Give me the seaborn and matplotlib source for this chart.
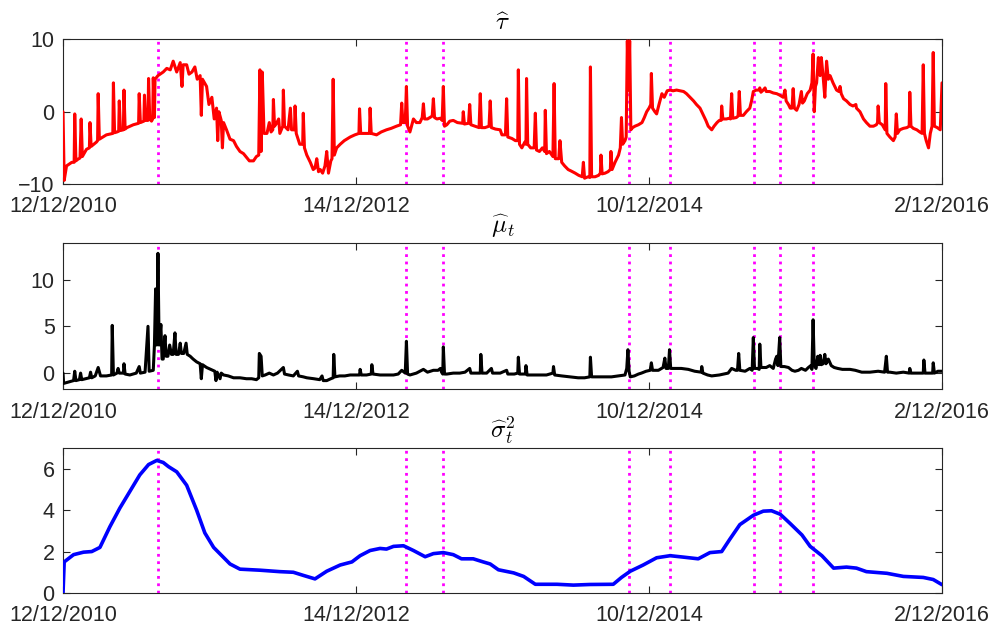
import matplotlib; matplotlib.use('Agg')
import numpy as np
import seaborn as sns
import matplotlib.pyplot as plt

# x axis is the observation index (0..1500), labelled with dates
date_ticks = [0, 500, 1000, 1500]
date_labels = ['12/12/2010', '14/12/2012', '10/12/2014', '2/12/2016']

# detected change points (magenta dotted lines)
events = [162, 585, 648, 966, 1035, 1179, 1224, 1280]

# tau-hat (red)
tau_x = [0, 2, 6, 15, 19, 20, 22, 25, 29, 31, 33, 40, 45, 46, 48, 57, 59, 60, 62, 74,
         85, 86, 88, 92, 95, 96, 98, 103, 104, 106, 109, 120, 129, 130, 132, 138, 139, 141, 145, 146,
         148, 151, 153, 154, 156, 157, 162, 171, 177, 183, 188, 194, 200, 203, 205, 211, 215, 220, 225, 229,
         234, 236, 238, 245, 249, 254, 258, 262, 264, 266, 270, 272, 274, 279, 285, 291, 296, 302, 308, 313,
         318, 325, 330, 334, 336, 338, 340, 343, 348, 352, 355, 358, 359, 361, 365, 368, 370, 375, 376, 378,
         384, 388, 390, 395, 396, 398, 404, 409, 410, 412, 416, 422, 427, 430, 433, 436, 439, 443, 447, 450,
         453, 457, 459, 461, 463, 467, 473, 480, 490, 498, 505, 506, 508, 515, 523, 524, 526, 535, 543, 552,
         560, 569, 576, 578, 580, 584, 586, 588, 592, 598, 603, 609, 613, 615, 617, 622, 626, 630, 632, 634,
         638, 644, 647, 649, 651, 655, 660, 666, 673, 682, 683, 685, 692, 694, 696, 703, 710, 712, 714, 720,
         727, 729, 731, 738, 746, 749, 755, 757, 759, 766, 772, 776, 777, 779, 783, 788, 790, 791, 793, 798,
         804, 806, 808, 813, 818, 822, 823, 825, 830, 836, 838, 840, 846, 848, 851, 856, 862, 867, 874, 880,
         886, 888, 890, 896, 899, 900, 902, 908, 914, 917, 918, 920, 925, 930, 934, 935, 937, 942, 948, 951,
         953, 955, 959, 961, 963, 965, 967, 969, 972, 976, 982, 988, 992, 996, 1000, 1003, 1004, 1006, 1010, 1013,
         1017, 1022, 1026, 1031, 1036, 1041, 1047, 1053, 1059, 1064, 1070, 1076, 1081, 1087, 1093, 1097, 1101, 1107, 1111, 1116,
         1120, 1123, 1124, 1126, 1132, 1137, 1139, 1141, 1143, 1149, 1152, 1154, 1156, 1161, 1166, 1172, 1175, 1178, 1183, 1188,
         1189, 1191, 1195, 1198, 1200, 1206, 1212, 1218, 1223, 1229, 1232, 1234, 1238, 1241, 1244, 1246, 1248, 1252, 1256, 1260,
         1262, 1265, 1270, 1275, 1278, 1280, 1282, 1284, 1286, 1289, 1291, 1292, 1294, 1297, 1300, 1303, 1306, 1309, 1314, 1320,
         1324, 1326, 1328, 1332, 1337, 1343, 1348, 1353, 1354, 1360, 1366, 1371, 1377, 1383, 1388, 1390, 1391, 1393, 1398, 1403,
         1404, 1406, 1411, 1417, 1420, 1422, 1424, 1428, 1434, 1440, 1444, 1445, 1447, 1451, 1457, 1462, 1466, 1468, 1470, 1473,
         1477, 1480, 1483, 1485, 1487, 1492, 1497, 1500]
tau_y = [0.0, -9.5, -7.5, -7.0, -7.0, -0.3, -6.8, -6.6, -6.4, -1.0, -6.2, -5.2, -5.0, -1.5, -4.8, -4.2, -4.0, 2.5, -3.8, -3.2,
         -3.0, 4.0, -2.9, -2.8, -2.7, 1.5, -2.6, -2.5, 3.0, -2.4, -2.2, -1.8, -1.6, 2.5, -1.5, -1.3, 2.3, -1.2, -1.2, 4.6,
         -1.0, -1.3, -1.0, 4.7, -0.8, 4.5, 5.0, 5.5, 6.0, 5.8, 7.0, 5.5, 6.8, 3.5, 6.5, 6.5, 5.2, 5.5, 6.2, 4.5,
         5.0, -0.5, 4.5, 3.5, 1.0, 2.0, -1.0, 0.5, -4.0, 0.0, -1.2, -5.0, -1.5, -2.5, -3.8, -4.0, -4.8, -5.5, -5.8, -6.3,
         -6.8, -6.8, -6.2, -6.0, 5.8, -5.5, 5.5, -3.0, -3.0, -1.5, -2.8, -2.5, 1.7, -2.0, -1.5, -1.0, -3.0, -2.0, 3.0, -2.0,
         -2.5, 0.5, -2.5, -2.5, 0.8, -3.0, -4.5, -4.5, -0.2, -5.0, -6.0, -7.0, -8.0, -7.8, -6.5, -8.3, -8.0, -8.5, -7.5, -5.5,
         -8.5, -6.8, -6.5, 4.5, -6.0, -5.0, -4.5, -4.0, -3.5, -3.2, -3.0, 0.4, -3.0, -3.0, -3.0, 0.5, -3.0, -3.2, -2.8, -2.5,
         -2.3, -2.0, -1.8, 1.2, -1.5, -1.5, 3.5, -2.0, -2.8, -1.0, -1.5, -1.5, -0.8, 1.1, -1.0, -1.0, -0.8, -0.6, 1.8, -0.8,
         -1.0, -0.9, -1.2, 3.5, -2.0, -1.8, -1.3, -1.2, -1.5, -1.6, 0.0, -1.7, -1.6, 1.0, -1.8, -2.0, -2.2, 2.5, -2.2, -2.2,
         -2.0, 1.5, -2.2, -2.4, -2.5, -3.2, -3.2, 1.8, -3.5, -3.7, -4.0, -4.0, 5.8, -4.5, -5.0, -4.2, -4.5, 4.6, -4.5, -5.0,
         -5.0, -0.2, -5.3, -5.5, -5.0, -5.5, 0.2, -5.8, -5.5, -6.2, 3.9, -6.5, -6.5, -4.0, -7.0, -7.5, -8.0, -8.2, -8.5, -8.8,
         -9.0, -7.0, -9.2, -9.0, -9.1, 6.2, -9.0, -9.0, -8.8, -8.5, -6.0, -8.6, -8.5, -8.3, -8.0, -5.5, -8.0, -7.0, -6.0, -5.0,
         -0.8, -4.5, -4.0, -3.5, 9.8, 3.0, 9.8, -2.5, -2.2, -2.0, -1.8, -1.5, -0.8, 0.0, 0.5, 1.0, 5.3, 0.5, 0.0, -0.3,
         1.0, 2.5, 2.0, 2.9, 3.0, 2.9, 3.0, 2.9, 2.8, 2.5, 2.0, 1.5, 1.0, 0.5, -0.5, -1.2, -2.0, -2.5, -2.0, -1.5,
         -1.2, -1.2, 0.8, -1.0, -1.0, -0.9, -1.0, 2.5, -0.9, -0.8, -0.6, 2.8, -0.5, -0.5, 0.0, 0.5, 1.5, 2.8, 3.0, 3.0,
         3.3, 2.7, 3.0, 3.3, 2.8, 2.8, 2.6, 2.5, 2.3, 2.0, 3.0, 1.5, 1.0, 0.5, 0.5, 3.2, 0.5, 0.2, 1.0, 2.8,
         1.2, 1.5, 2.5, 3.0, 4.0, 8.0, 0.0, 3.5, 4.0, 7.5, 6.0, 5.0, 7.5, 5.0, 2.0, 7.0, 4.5, 5.0, 4.0, 3.0,
         2.8, 3.5, 2.5, 1.8, 1.5, 1.0, 0.8, 1.0, 0.5, 0.0, -1.0, -1.5, -2.0, -2.0, -1.8, -1.5, 0.8, -1.5, -1.8, -2.5,
         3.9, -3.0, -3.5, -4.0, -3.5, -0.3, -3.0, -2.5, -2.3, -2.2, -2.0, 2.7, -2.0, -2.3, -2.5, -2.8, -3.0, 6.5, -3.0, -4.0,
         -5.0, -3.0, -2.0, 8.2, -2.0, -2.2, -2.5, 4.0]

# mu-hat (black)
mu_x = [0, 1, 12, 18, 20, 22, 28, 30, 32, 45, 47, 49, 55, 60, 64, 74, 83, 84, 86, 92,
        94, 96, 103, 104, 106, 114, 125, 130, 132, 140, 145, 147, 154, 156, 158, 160, 162, 164, 167, 169,
        171, 174, 176, 179, 182, 185, 188, 191, 193, 197, 200, 202, 206, 210, 212, 217, 222, 228, 234, 236,
        238, 245, 252, 259, 261, 263, 268, 270, 274, 282, 291, 302, 313, 322, 330, 334, 335, 338, 340, 345,
        352, 359, 366, 376, 378, 385, 393, 400, 402, 410, 416, 428, 438, 442, 444, 450, 457, 461, 462, 464,
        472, 481, 490, 498, 506, 507, 509, 518, 526, 527, 529, 541, 552, 564, 572, 578, 584, 586, 588, 592,
        603, 615, 622, 632, 640, 644, 646, 648, 649, 651, 655, 666, 677, 686, 694, 696, 705, 712, 713, 715,
        723, 731, 733, 737, 746, 757, 759, 770, 776, 777, 779, 783, 789, 790, 792, 800, 811, 825, 836, 837,
        839, 851, 865, 879, 890, 899, 900, 902, 908, 922, 936, 948, 959, 962, 964, 966, 968, 975, 982, 987,
        995, 1002, 1004, 1006, 1016, 1024, 1027, 1029, 1033, 1035, 1037, 1042, 1055, 1067, 1078, 1089, 1090, 1092, 1100, 1107,
        1120, 1135, 1141, 1148, 1151, 1153, 1155, 1164, 1172, 1176, 1178, 1180, 1185, 1188, 1189, 1191, 1200, 1206, 1212, 1216,
        1218, 1220, 1223, 1225, 1231, 1238, 1244, 1249, 1255, 1260, 1267, 1272, 1276, 1278, 1280, 1282, 1285, 1288, 1290, 1292,
        1294, 1297, 1300, 1302, 1306, 1311, 1316, 1322, 1330, 1343, 1352, 1363, 1377, 1391, 1402, 1405, 1407, 1411, 1422, 1434,
        1444, 1445, 1447, 1454, 1462, 1468, 1469, 1471, 1477, 1484, 1485, 1487, 1493, 1500]
mu_y = [0.0, -1.1, -0.9, -0.8, 0.2, -0.8, -0.7, 0.0, -0.7, -0.5, 0.1, -0.5, -0.3, 0.6, -0.3, -0.3, -0.2, 5.1, -0.2, 0.0,
        0.5, 0.0, 0.0, 1.0, -0.1, -0.2, 0.0, 0.7, 0.0, 0.1, 5.0, 0.2, 0.3, 3.0, 9.0, 3.0, 12.8, 3.0, 5.2, 1.5,
        1.5, 4.0, 1.8, 1.8, 3.0, 2.0, 2.0, 4.3, 2.0, 2.0, 3.2, 2.1, 2.1, 3.2, 2.0, 1.8, 1.5, 1.2, 1.0, -0.6,
        0.9, 0.6, 0.4, 0.2, -0.8, 0.1, -0.6, 0.0, -0.2, -0.3, -0.5, -0.5, -0.6, -0.6, -0.7, -0.5, 2.1, 1.8, -0.3, -0.2,
        0.0, -0.2, 0.0, 0.6, -0.1, -0.2, -0.3, 0.2, -0.3, -0.4, -0.5, -0.6, -0.7, -0.3, -0.8, -0.8, -0.6, -0.5, 2.0, -0.4,
        -0.3, -0.3, -0.2, -0.2, -0.2, 0.4, -0.2, -0.2, -0.1, 0.9, -0.1, -0.2, -0.2, -0.2, -0.1, 0.3, 0.0, 3.4, -0.1, -0.2,
        0.0, 0.4, 0.1, 0.3, 0.3, 0.5, 0.1, -0.1, 2.8, -0.1, -0.1, 0.0, 0.0, 0.1, 0.5, 0.0, 0.0, 0.0, 2.0, 0.0,
        0.0, 0.5, 0.0, 0.0, 0.0, 0.3, -0.1, -0.1, 0.0, 1.7, -0.1, -0.1, -0.1, 0.8, -0.2, -0.2, -0.2, -0.2, 0.0, 0.7,
        -0.2, -0.3, -0.4, -0.5, -0.5, -0.4, 1.7, -0.4, -0.4, -0.4, -0.4, -0.3, -0.2, 0.5, 2.5, 0.2, -0.4, -0.3, -0.1, 0.0,
        0.2, 0.3, 1.1, 0.3, 0.3, 0.6, 1.6, 0.5, 0.5, 2.5, 0.5, 0.5, 0.5, 0.4, 0.2, 0.1, 0.7, 0.0, -0.2, -0.3,
        -0.2, 0.0, 0.5, 0.3, 0.3, 2.1, 0.3, 0.2, 0.5, 0.3, 3.8, 0.5, 0.5, 0.4, 3.1, 0.6, 0.6, 0.8, 0.5, 1.5,
        1.8, 0.8, 3.8, 0.7, 0.7, 0.6, 0.3, 0.2, 0.3, 0.5, 0.3, 0.6, 0.8, 0.4, 5.7, 0.8, 0.5, 1.8, 0.9, 1.9,
        0.9, 1.0, 2.0, 1.0, 1.5, 0.8, 0.6, 0.5, 0.4, 0.4, 0.3, 0.1, 0.1, 0.2, 0.1, 1.8, 0.1, 0.1, 0.0, 0.1,
        0.0, 0.5, 0.0, 0.0, 0.0, 0.0, 1.4, 0.0, 0.0, 0.0, 1.1, 0.0, 0.2, 0.2]

# sigma^2-hat (blue)
sig_x = [0, 2, 18, 35, 49, 63, 80, 97, 114, 131, 146, 160, 171, 180, 194, 211, 228, 242, 257, 271,
         285, 302, 336, 370, 393, 410, 430, 450, 473, 493, 507, 524, 541, 552, 564, 581, 598, 618, 632, 649,
         666, 680, 700, 717, 729, 743, 769, 786, 806, 843, 871, 899, 939, 953, 968, 990, 1013, 1036, 1059, 1084,
         1104, 1124, 1138, 1155, 1178, 1195, 1209, 1224, 1241, 1261, 1275, 1295, 1315, 1337, 1354, 1371, 1406, 1434, 1468, 1485,
         1500]
sig_y = [0.0, 1.5, 1.85, 1.97, 2.0, 2.2, 3.2, 4.1, 4.9, 5.7, 6.2, 6.4, 6.3, 6.1, 5.85, 5.2, 4.0, 2.9, 2.2, 1.8,
         1.4, 1.15, 1.1, 1.03, 1.0, 0.85, 0.68, 1.05, 1.35, 1.5, 1.8, 2.05, 2.15, 2.12, 2.25, 2.28, 2.05, 1.75, 1.9, 1.95,
         1.85, 1.65, 1.65, 1.5, 1.4, 1.12, 0.97, 0.8, 0.42, 0.42, 0.38, 0.41, 0.42, 0.75, 1.05, 1.35, 1.7, 1.8, 1.73, 1.65,
         1.95, 2.0, 2.6, 3.3, 3.75, 3.95, 3.97, 3.8, 3.35, 2.8, 2.25, 1.8, 1.2, 1.25, 1.2, 1.03, 0.95, 0.8, 0.75, 0.65,
         0.4]

sns.set_style('ticks')
plt.rcParams['font.family'] = ['Liberation Sans', 'DejaVu Sans']
plt.rcParams['mathtext.fontset'] = 'cm'
ink = '#262626'

fig = plt.figure(figsize=(9.94, 6.34), dpi=100)
boxes = [[0.0634, 0.7098, 0.8843, 0.2279],
         [0.0634, 0.3864, 0.8843, 0.2303],
         [0.0634, 0.0647, 0.8843, 0.2287]]
panels = [
    (tau_x, tau_y, 'red', 2.2, r'$\widehat{\tau}$', (-10, 10), [-10, 0, 10]),
    (mu_x, mu_y, 'black', 2.2, r'$\widehat{\mu}_t$', (-1.7, 13.9), [0, 5, 10]),
    (sig_x, sig_y, 'blue', 2.6, r'$\widehat{\sigma}_t^2$', (0, 7), [0, 2, 4, 6]),
]

for box, (xs, ys, col, lw, title, ylim, yt) in zip(boxes, panels):
    ax = fig.add_axes(box)
    sns.lineplot(x=xs, y=ys, ax=ax, color=col, lw=lw, estimator=None, sort=False, zorder=3)
    for e in events:
        ax.axvline(e, color=(1, 0, 1), lw=2, ls=':', zorder=2)
    ax.set_xlim(0, 1500)
    ax.set_ylim(*ylim)
    ax.set_xticks(date_ticks)
    ax.set_xticklabels(date_labels)
    ax.set_yticks(yt)
    ax.tick_params(direction='in', top=True, right=True, length=5, width=0.8,
                   labelsize=15.5, colors=ink, labelcolor=ink)
    ax.tick_params(axis='x', pad=9)
    ax.tick_params(axis='y', pad=6)
    for s in ax.spines.values():
        s.set_visible(True)
        s.set_color(ink)
        s.set_linewidth(0.8)
    ax.set_title(title, fontsize=18, color='black', pad=7)

fig.savefig('out.png', dpi=100)
